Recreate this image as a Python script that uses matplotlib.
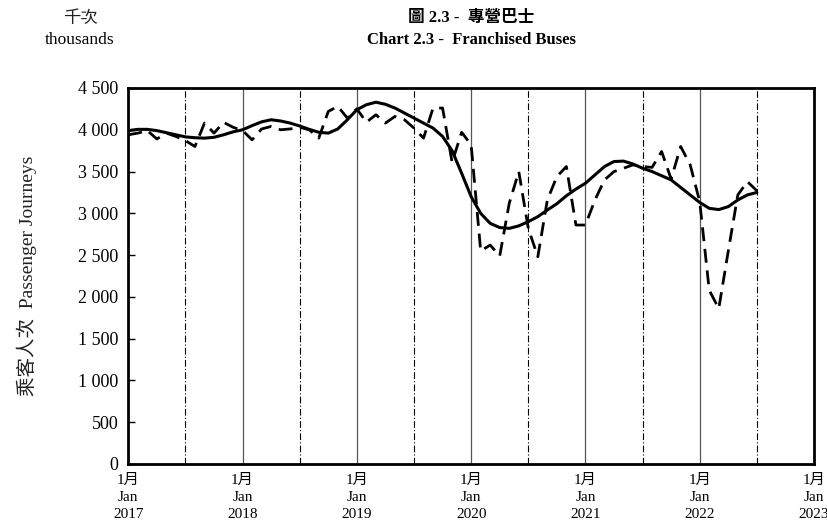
import matplotlib
matplotlib.use('Agg')
import matplotlib.pyplot as plt
from matplotlib.ticker import FuncFormatter

# Months since Jan 2017 (Jan 2017 .. Jul 2022)
month_index = list(range(67))

monthly_journeys = [
    3940, 3960, 3990, 3890, 3960, 3920, 3870, 3800, 4080, 3960, 4090, 4030,  # 2017
    3990, 3880, 4010, 4040, 4000, 4010, 4030, 4000, 3900, 4220, 4280, 4140,  # 2018
    4250, 4090, 4180, 4080, 4160, 4120, 4020, 3900, 4260, 4260, 3610, 3970,  # 2019
    3820, 2550, 2620, 2490, 3120, 3500, 2820, 2480, 3160, 3440, 3560, 2860,  # 2020
    2860, 3160, 3400, 3500, 3540, 3580, 3560, 3550, 3740, 3410, 3800, 3580,  # 2021
    3140, 2080, 1860, 2550, 3220, 3380, 3270,                                # 2022
]

trend_journeys = [
    3990, 4005, 4005, 3990, 3965, 3940, 3915, 3905, 3900, 3910, 3940, 3975,  # 2017
    4000, 4050, 4095, 4120, 4105, 4080, 4045, 4005, 3970, 3960, 4010, 4120,  # 2018
    4240, 4300, 4330, 4305, 4260, 4200, 4140, 4080, 4020, 3920, 3750, 3480,  # 2019
    3200, 3000, 2880, 2830, 2820, 2850, 2900, 2960, 3040, 3115, 3210, 3290,  # 2020
    3360, 3460, 3560, 3620, 3625, 3590, 3540, 3500, 3450, 3400, 3310, 3220,  # 2021
    3130, 3060, 3045, 3080, 3160, 3220, 3250,                                # 2022
]

years = ['2017', '2018', '2019', '2020', '2021', '2022', '2023']
x_tick_labels = ['1月\nJan\n' + y for y in years]
y_ticks = [0, 500, 1000, 1500, 2000, 2500, 3000, 3500, 4000, 4500]

SERIF = ['Liberation Serif', 'Noto Sans CJK TC']
plt.rcParams['font.family'] = SERIF

fig = plt.figure(figsize=(8.28, 5.26), dpi=100)
ax = fig.add_axes([128.3 / 828, 62 / 526, (814 - 128.3) / 828, (464 - 88) / 526])

# vertical grid lines
for k in range(1, 6):
    ax.axvline(12 * k, color='#555555', lw=0.9, zorder=1)
for k in range(6):
    ax.axvline(12 * k + 6, color='black', lw=0.8, ls=(0, (6, 2, 1, 2)), zorder=1)

ax.plot(month_index, monthly_journeys, color='black', lw=2.0,
        ls=(0, (5, 2.8)), zorder=3)
ax.plot(month_index, trend_journeys, color='black', lw=2.2, zorder=4,
        solid_capstyle='round', solid_joinstyle='round')

ax.set_xlim(0, 72)
ax.set_ylim(0, 4500)
ax.set_yticks(y_ticks)
ax.yaxis.set_major_formatter(FuncFormatter(lambda v, p: f'{int(v):,}'.replace(',', ' ')))
ax.set_xticks([0, 12, 24, 36, 48, 60, 72])
ax.set_xticklabels(x_tick_labels, fontsize=11, linespacing=1.4)
ax.tick_params(axis='y', direction='in', length=5, width=1, labelsize=13, pad=7)
ax.tick_params(axis='x', length=0, pad=7)

for s in ax.spines.values():
    s.set_linewidth(2.0)
    s.set_color('black')

ax.set_ylabel('乘客人次  Passenger Journeys', fontsize=14, color='#222222', labelpad=30)

fig.text(0.5 * (128.3 + 814) / 828, 1 - 18 / 526, '圖 2.3 -  專營巴士', ha='center', va='center',
         fontsize=12, fontweight='bold', family=SERIF)
fig.text(0.5 * (128.3 + 814) / 828, 1 - 40 / 526, 'Chart 2.3 -  Franchised Buses', ha='center',
         va='center', fontsize=12, fontweight='bold', family=SERIF)
fig.text(80 / 828, 1 - 19 / 526, '千次', ha='center', va='center', fontsize=12.5, family=SERIF,
         color='#222222')
fig.text(80 / 828, 1 - 40 / 526, 'thousands', ha='center', va='center', fontsize=12.5, family=SERIF)

fig.savefig('out.png', dpi=100)
